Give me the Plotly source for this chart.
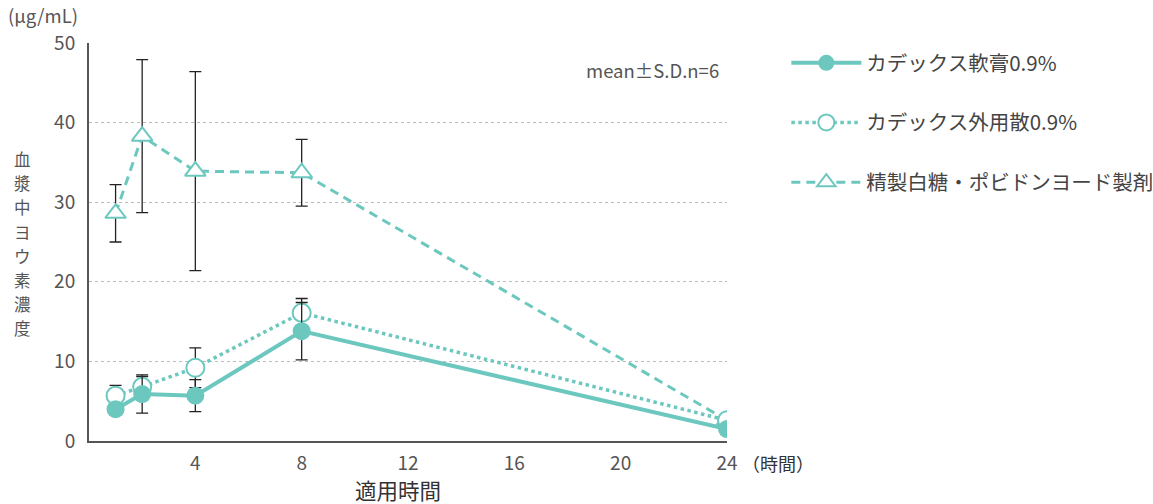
import plotly.graph_objects as go

# Sampling times (h) and plasma iodine concentration (μg/mL), mean and S.D.
hours = [1, 2, 4, 8, 24]

ointment_mean = [4.0, 5.9, 5.7, 13.8, 1.5]
ointment_sd = [0.6, 2.4, 2.0, 3.6, 0.3]

powder_mean = [5.7, 6.8, 9.2, 16.1, 2.6]
powder_sd = [1.3, 1.3, 2.5, 1.8, 0.3]

sugar_pvp_mean = [28.6, 38.3, 33.9, 33.7, 2.6]
sugar_pvp_sd = [3.6, 9.6, 12.5, 4.2, 0.3]

series_names = ["カデックス軟膏0.9%", "カデックス外用散0.9%", "精製白糖・ポビドンヨード製剤"]
x_ticks = [4, 8, 12, 16, 20, 24]
y_ticks = [0, 10, 20, 30, 40, 50]
y_title = "血漿中ヨウ素濃度"

TEAL = "#6cc8bf"
FONT = "Noto Sans CJK JP"
TEXT = "#555555"

fig = go.Figure()


def err(sd):
    return dict(type="data", array=sd, visible=True, color="#222222", thickness=1.3, width=6)


fig.add_trace(go.Scatter(
    x=hours, y=sugar_pvp_mean, name=series_names[2], mode="lines+markers",
    line=dict(color=TEAL, width=3, dash="9px,6px"),
    marker=dict(symbol="triangle-up", size=18, color="white", line=dict(color=TEAL, width=2)),
    error_y=err(sugar_pvp_sd), legendrank=3, legendgroup="c",
))
fig.add_trace(go.Scatter(
    x=hours, y=powder_mean, name=series_names[1], mode="lines+markers",
    line=dict(color=TEAL, width=3.5, dash="dot"),
    marker=dict(symbol="circle", size=18, color="white", line=dict(color=TEAL, width=2)),
    error_y=err(powder_sd), legendrank=2, legendgroup="b",
))
fig.add_trace(go.Scatter(
    x=hours, y=ointment_mean, name=series_names[0], mode="lines+markers",
    line=dict(color=TEAL, width=4),
    marker=dict(symbol="circle", size=18, color=TEAL),
    error_y=err(ointment_sd), legendrank=1, legendgroup="a",
))

fig.update_layout(
    width=1153, height=504,
    margin=dict(l=89, r=426, t=43, b=63, autoexpand=False),
    paper_bgcolor="white", plot_bgcolor="white",
    font=dict(family=FONT, color=TEXT, size=18),
    showlegend=True,
    legend=dict(
        x=1.093, y=1.0, xanchor="left", yanchor="top",
        font=dict(family=FONT, size=20.5, color="#444444"),
        itemwidth=70, tracegroupgap=30, traceorder="grouped",
        bgcolor="rgba(0,0,0,0)",
    ),
    xaxis=dict(
        range=[0, 24], tickvals=x_ticks, showgrid=False, zeroline=False,
        showline=True, linecolor="#555555", linewidth=2,
        ticks="", tickfont=dict(size=19, color=TEXT), ticklabelstandoff=4,
    ),
    yaxis=dict(
        range=[0, 50], tickvals=y_ticks, showgrid=True, gridcolor="#bbbbbb",
        griddash="3px,3px", gridwidth=1, zeroline=False,
        showline=True, linecolor="#555555", linewidth=2,
        ticks="", tickfont=dict(size=19, color=TEXT), ticklabelstandoff=8,
    ),
)

annotations = [
    dict(text="(μg/mL)", x=-0.128, y=(441 - 15) / 398, xanchor="left", yanchor="middle",
         font=dict(size=18.5, color=TEXT), borderpad=0),
    dict(text="mean±S.D.n=6", x=0.99, y=0.97, xanchor="right", yanchor="top",
         font=dict(size=18.5, color=TEXT)),
    dict(text="適用時間", x=0.485, y=(441 - 489) / 398, xanchor="center", yanchor="middle",
         font=dict(size=21.5, color="#333333"), borderpad=0),
    dict(text="（時間）", x=1.022, y=(441 - 463) / 398, xanchor="left", yanchor="middle",
         font=dict(size=18, color="#333333"), borderpad=0),
]
# Vertical y-axis title, one character per row
for i, ch in enumerate(y_title):
    py = 159 + i * 24.2
    annotations.append(dict(
        text=ch, x=-0.105, y=(441 - py) / 398, xanchor="center", yanchor="middle",
        font=dict(size=16.5, color=TEXT), borderpad=0,
    ))
for a in annotations:
    a.update(xref="paper", yref="paper", showarrow=False)
fig.update_layout(annotations=annotations)

fig.write_html("out.html")
